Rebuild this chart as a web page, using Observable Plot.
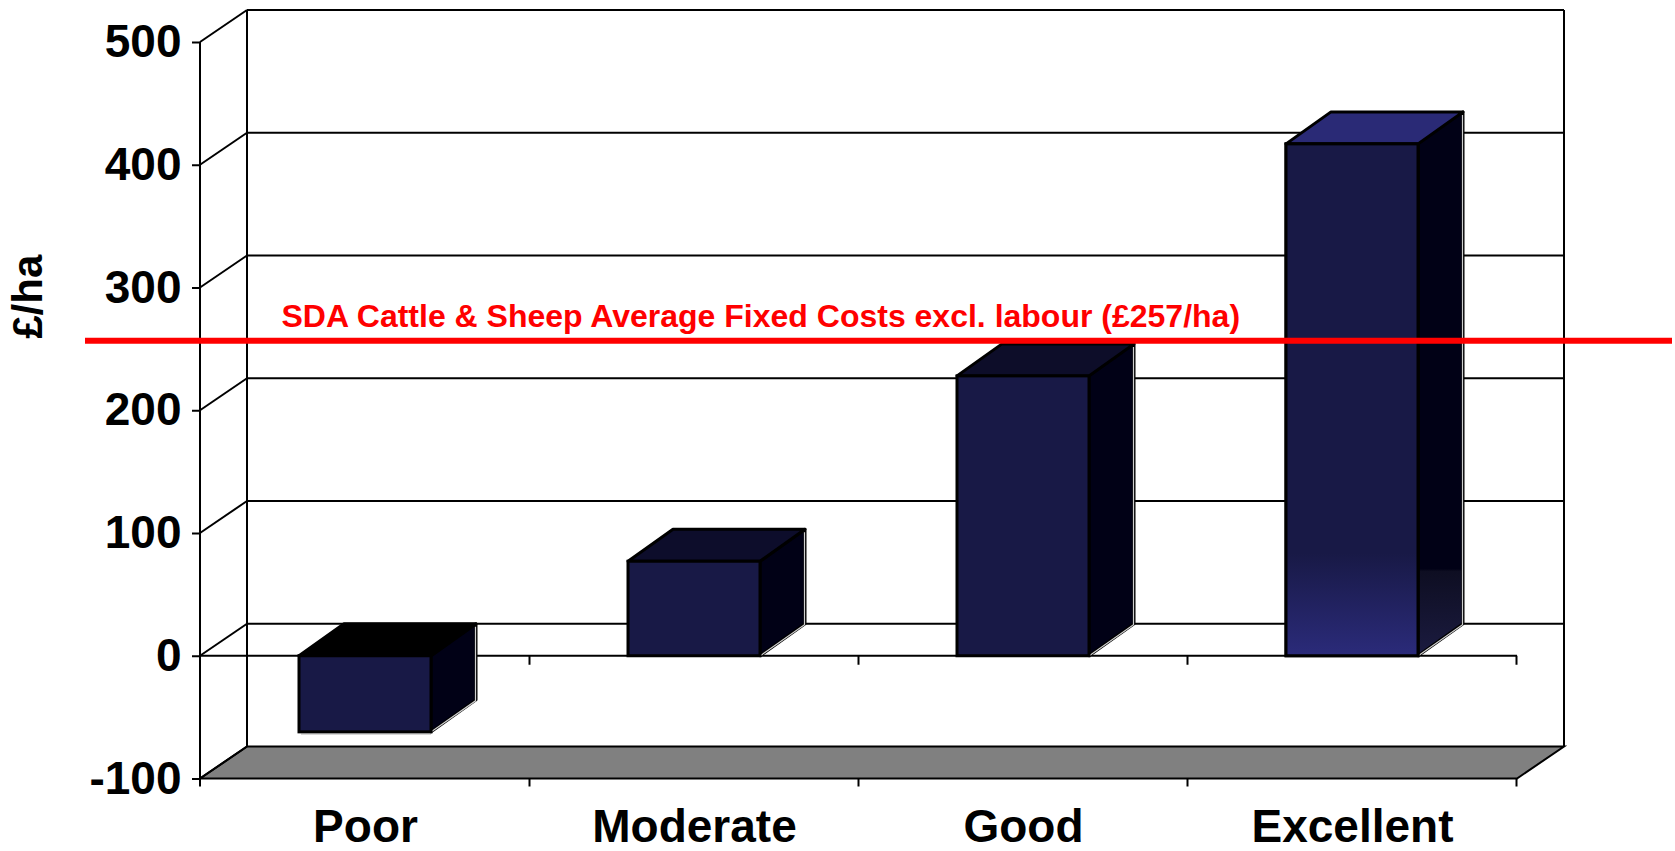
<!DOCTYPE html>
<html><head><meta charset="utf-8">
<script src="https://cdn.jsdelivr.net/npm/d3@7"></script>
<script src="https://cdn.jsdelivr.net/npm/@observablehq/plot@0.6"></script>
<style>html,body{margin:0;padding:0;background:#fff;overflow:hidden;} svg{display:block;}</style>
</head><body>
<div id="chart"></div>
<script>
// ---- data ----
const categories = ["Poor", "Moderate", "Good", "Excellent"];
const values = [-62, 77, 228, 417];
const yTicks = [-100, 0, 100, 200, 300, 400, 500];
const fixedCost = 257;
const fixedCostLabel = "SDA Cattle & Sheep Average Fixed Costs excl. labour (£257/ha)";
const yLabel = "£/ha";

const rows = categories.map((c, i) => ({category: c, value: values[i]}));

// ---- styles ----
const DX = 47, DY = -32;     // wall depth (px)
const BDX = 45, BDY = -32;   // bar depth (px)
const FRONT = "#181946", SIDE = "#010116";
const TOPS = {Poor: "#000000", Moderate: "#0d0d2b", Good: "#0d0d29", Excellent: "#2a2a76"};
const FONT = "'Liberation Sans', Arial, Helvetica, sans-serif";

function walls(index, {x, y}) {
  const [L, R] = x.range();
  const step = x.step(), bw = x.bandwidth();
  const g = d3.create("svg:g").attr("fill", "none").attr("stroke", "black").attr("stroke-width", 2);
  const yb = y(yTicks[0]), yt = y(yTicks[yTicks.length - 1]), yz = y(0);
  // floor
  g.append("path")
    .attr("d", `M${L},${yb}L${R},${yb}L${R + DX},${yb + DY}L${L + DX},${yb + DY}Z`)
    .attr("fill", "#808080");
  // back wall gridlines
  for (const t of yTicks.slice(1)) {
    g.append("line").attr("x1", L + DX).attr("x2", R + DX).attr("y1", y(t) + DY).attr("y2", y(t) + DY);
  }
  // back wall edges
  g.append("line").attr("x1", L + DX).attr("x2", L + DX).attr("y1", yt + DY).attr("y2", yb + DY);
  g.append("line").attr("x1", R + DX).attr("x2", R + DX).attr("y1", yt + DY).attr("y2", yb + DY);
  // side wall diagonals
  for (const t of yTicks) {
    g.append("line").attr("x1", L).attr("y1", y(t)).attr("x2", L + DX).attr("y2", y(t) + DY);
  }
  // front value axis line
  g.append("line").attr("x1", L).attr("x2", L).attr("y1", yt).attr("y2", yb + 8);
  // front zero line
  g.append("line").attr("x1", L).attr("x2", R).attr("y1", yz).attr("y2", yz);
  // category boundary ticks
  categories.forEach(c => {
    const bx = x(c) + bw + (step - bw) / 2;
    g.append("line").attr("x1", bx).attr("x2", bx).attr("y1", yz).attr("y2", yz + 9);
    g.append("line").attr("x1", bx).attr("x2", bx).attr("y1", yb).attr("y2", yb + 8);
  });
  return g.node();
}

function barFaces(index, {x, y}) {
  const g = d3.create("svg:g");
  const defs = g.append("defs");
  const gf = defs.append("linearGradient").attr("id", "excFront").attr("x1", 0).attr("x2", 0).attr("y1", 0).attr("y2", 1);
  gf.append("stop").attr("offset", 0).attr("stop-color", FRONT);
  gf.append("stop").attr("offset", 0.8).attr("stop-color", FRONT);
  gf.append("stop").attr("offset", 1).attr("stop-color", "#2b2b7a");
  const gs = defs.append("linearGradient").attr("id", "excSide").attr("x1", 0).attr("x2", 0).attr("y1", 0).attr("y2", 1);
  gs.append("stop").attr("offset", 0).attr("stop-color", SIDE);
  gs.append("stop").attr("offset", 0.84).attr("stop-color", SIDE);
  gs.append("stop").attr("offset", 0.845).attr("stop-color", "#0e0e22");
  gs.append("stop").attr("offset", 1).attr("stop-color", "#1b1b40");
  const bw = x.bandwidth();
  rows.forEach(d => {
    const x0 = x(d.category), x1 = x0 + bw;
    const yt = y(Math.max(d.value, 0)), yb = y(Math.min(d.value, 0));
    g.append("path")
      .attr("d", `M${x1},${yt}L${x1 + BDX},${yt + BDY}L${x1 + BDX},${yb + BDY}L${x1},${yb}Z`)
      .attr("fill", d.category === "Excellent" ? "url(#excSide)" : SIDE)
      .attr("stroke", "black").attr("stroke-width", 3).attr("stroke-linejoin", "round");
    g.append("path")
      .attr("d", `M${x0},${yt}L${x0 + BDX},${yt + BDY}L${x1 + BDX},${yt + BDY}L${x1},${yt}Z`)
      .attr("fill", TOPS[d.category])
      .attr("stroke", "black").attr("stroke-width", 3).attr("stroke-linejoin", "round");
    // light highlight edges
    g.append("path")
      .attr("d", `M${x1 + 1},${yb - 0.5}L${x1 + BDX - 0.5},${yb + BDY + 1}L${x1 + BDX - 0.5},${yt + BDY + 3}`)
      .attr("fill", "none").attr("stroke", "#d0d0d0").attr("stroke-width", 1.2);
    if (d.value < 0) {
      g.append("line").attr("x1", x0 + 2).attr("x2", x1).attr("y1", yb + 2.2).attr("y2", yb + 2.2)
        .attr("stroke", "#c8c8c8").attr("stroke-width", 1.2);
    }
  });
  return g.node();
}

const chart = Plot.plot({
  width: 1675,
  height: 851,
  marginLeft: 200,
  marginRight: 158,
  marginTop: 42,
  marginBottom: 72.5,
  style: {fontFamily: FONT, fontSize: "46px", fontWeight: "bold", color: "black", background: "white"},
  x: {domain: categories, paddingInner: 0.6, paddingOuter: 0.3, label: null},
  y: {domain: [-100, 500], label: null},
  marks: [
    walls,
    barFaces,
    Plot.barY(rows, {x: "category", y: "value", fill: FRONT, stroke: "black", strokeWidth: 3}),
    Plot.barY(rows.filter(d => d.category === "Excellent"), {x: "category", y: "value", fill: "url(#excFront)", stroke: "black", strokeWidth: 3}),
    Plot.axisY(yTicks, {tickSize: 8, tickPadding: 11, strokeWidth: 2, tickFormat: d => `${d}`, label: null}),
    Plot.axisX({tickSize: 0, tickPadding: 30, label: null}),
    Plot.ruleY([fixedCost], {stroke: "#ff0000", strokeWidth: 6, insetLeft: -115, insetRight: -155}),
    Plot.text([fixedCostLabel], {text: d => d, y: () => fixedCost, frameAnchor: "left", textAnchor: "start", dx: 81, dy: -24, fill: "#ff0000", fontSize: 32, fontWeight: "bold"}),
    Plot.text([yLabel], {text: d => d, frameAnchor: "left", rotate: -90, dx: -172, dy: -72, fontSize: 42, fontWeight: "bold"})
  ]
});
document.getElementById("chart").appendChild(chart);
</script>
</body></html>
